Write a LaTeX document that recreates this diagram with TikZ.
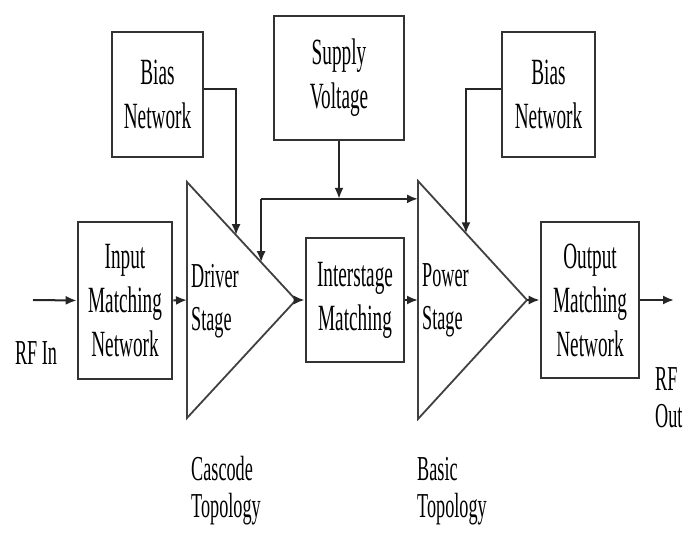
\documentclass[tikz,border=0pt]{standalone}
\usepackage{fontspec}
\setmainfont[FakeStretch=0.52]{Liberation Serif}
\usetikzlibrary{arrows.meta,calc}
\begin{document}
\begin{tikzpicture}[x=1pt,y=-1pt,
    block/.style={draw=black!80, line width=2.6pt, align=center, inner sep=0pt,
      text=black, font=\fontsize{37}{44}\selectfont},
    stage/.style={draw=black!75, line width=1.8pt, line join=miter},
    sig/.style={draw=black!85, line width=2pt, -{Latex[length=11pt,width=9pt]}},
    lbl/.style={align=left, inner sep=0pt, text=black, font=\fontsize{35}{43}\selectfont},
    note/.style={align=left, inner sep=0pt, text=black, font=\fontsize{35}{37}\selectfont}]
  \useasboundingbox (0,0) rectangle (691,534);

  \node[block, minimum width=91, minimum height=125] (bias1) at (157.5,94.5) {Bias\\Network};
  \node[block, minimum width=130, minimum height=124] (supply) at (339,78) {Supply\\Voltage};
  \node[block, minimum width=93, minimum height=125] (bias2) at (548.5,94.5) {Bias\\Network};
  \node[block, minimum width=94, minimum height=157] (input) at (125,300.5) {Input\\Matching\\Network};
  \node[block, minimum width=98, minimum height=124] (inter) at (355,300) {Interstage\\Matching};
  \node[block, minimum width=98, minimum height=156] (output) at (590,300) {Output\\Matching\\Network};

  \coordinate (drvtop) at (187,182);
  \coordinate (drvbot) at (187,418);
  \coordinate (drvtip) at (296,300);
  \draw[stage] (drvtop) -- (drvtip) -- (drvbot) -- cycle;
  \coordinate (pwrtop) at (418,181);
  \coordinate (pwrbot) at (418,419);
  \coordinate (pwrtip) at (527,300);
  \draw[stage] (pwrtop) -- (pwrtip) -- (pwrbot) -- cycle;

  \node[lbl, anchor=west] (drvlbl) at (191,301) {Driver\\Stage};
  \node[lbl, anchor=west] (pwrlbl) at (422,300) {Power\\Stage};
  \node[note, anchor=west] (cascode) at (191,491) {Cascode\\Topology};
  \node[note, anchor=west] (basic) at (417,491) {Basic\\Topology};
  \node[note, align=center] (rfinlbl) at (36,353) {RF In};
  \node[note, anchor=west] (rfoutlbl) at (655,398) {RF\\Out};

  \coordinate (rfin) at (33,300);
  \coordinate (rfout) at (674,300);
  \coordinate (drvin) at ($(drvtop)!0.5!(drvbot)$);
  \coordinate (pwrin) at ($(pwrtop)!0.5!(pwrbot)$);
  \coordinate (drvbias) at ($(drvtop)!0.45!(drvtip)$);
  \coordinate (drvsup) at ($(drvtop)!0.68!(drvtip)$);
  \coordinate (pwrbias) at ($(pwrtop)!0.44!(pwrtip)$);
  \coordinate (pwrsup) at ($(pwrtop)!0.075!(pwrbot)$);

  \draw[sig] (rfin) -- (input.west);
  \draw[sig] (input.east) -- (drvin);
  \draw[sig] (drvtip) -- (inter.west);
  \draw[sig] (inter.east) -- (pwrin);
  \draw[sig] (pwrtip) -- (output.west);
  \draw[sig] (output.east) -- (rfout);

  \draw[sig] ([yshift=5pt]bias1.east) -| (drvbias);
  \draw[sig] ([yshift=5pt]bias2.west) -| (pwrbias);
  \draw[sig] (supply.south) -- (supply.south |- pwrsup);
  \draw[sig] (drvsup |- pwrsup) -- (pwrsup);
  \draw[sig] (drvsup |- pwrsup) -- (drvsup);
\end{tikzpicture}
\end{document}
